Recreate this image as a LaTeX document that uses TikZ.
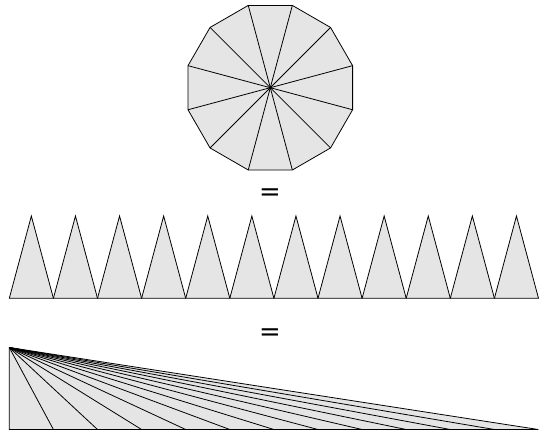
\documentclass[tikz,border=0pt]{standalone}
\usepackage{fontspec}
\setmainfont{DejaVu Sans}
\usetikzlibrary{calc}
\definecolor{piecegray}{RGB}{229,229,229}
\begin{document}
\begin{tikzpicture}[x=1bp,y=-1bp,
  piece/.style={draw=black,fill=piecegray,line width=0.8pt,line join=miter},
  eqsign/.style={font=\fontsize{26}{26}\selectfont,inner sep=0pt}]
\useasboundingbox (0,0) rectangle (540,432);
% dodecagon split into 12 triangles
\coordinate (c) at (270.3,87.7);
\fill[piecegray] ($(c)+(15:85.2)$)
  \foreach \k in {1,...,11}{ -- ($(c)+(15+30*\k:85.2)$)} -- cycle;
\foreach \k in {0,...,11}{
  \pgfmathsetmacro{\a}{15+30*\k}
  \draw[line width=0.8pt] (c) -- ($(c)+(\a:85.2)$);
}
\draw[line width=0.8pt,line join=miter] ($(c)+(15:85.2)$)
  \foreach \k in {1,...,11}{ -- ($(c)+(15+30*\k:85.2)$)} -- cycle;
% row of triangles
\foreach \k in {0,...,11}{
  \coordinate (l\k) at ({9.3+44.1*\k},298.3);
  \coordinate (t\k) at ({9.3+44.1*\k+22.05},216);
  \coordinate (r\k) at ({9.3+44.1*(\k+1)},298.3);
  \draw[piece] (l\k) -- (t\k) -- (r\k) -- cycle;
}
% long triangle
\coordinate (apex) at (9.3,347.5);
\coordinate (bl) at (9.3,429.5);
\coordinate (br) at (538.3,429.5);
\draw[piece] (apex) -- (bl) -- (br) -- cycle;
\foreach \k in {1,...,11}{
  \coordinate (b\k) at ({9.3+44.1*\k},429.5);
  \draw[line width=0.8pt] (apex) -- (b\k);
}
\node[eqsign] (eq1) at (270,194.5) {=};
\node[eqsign] (eq2) at (270,334.5) {=};
\end{tikzpicture}
\end{document}
